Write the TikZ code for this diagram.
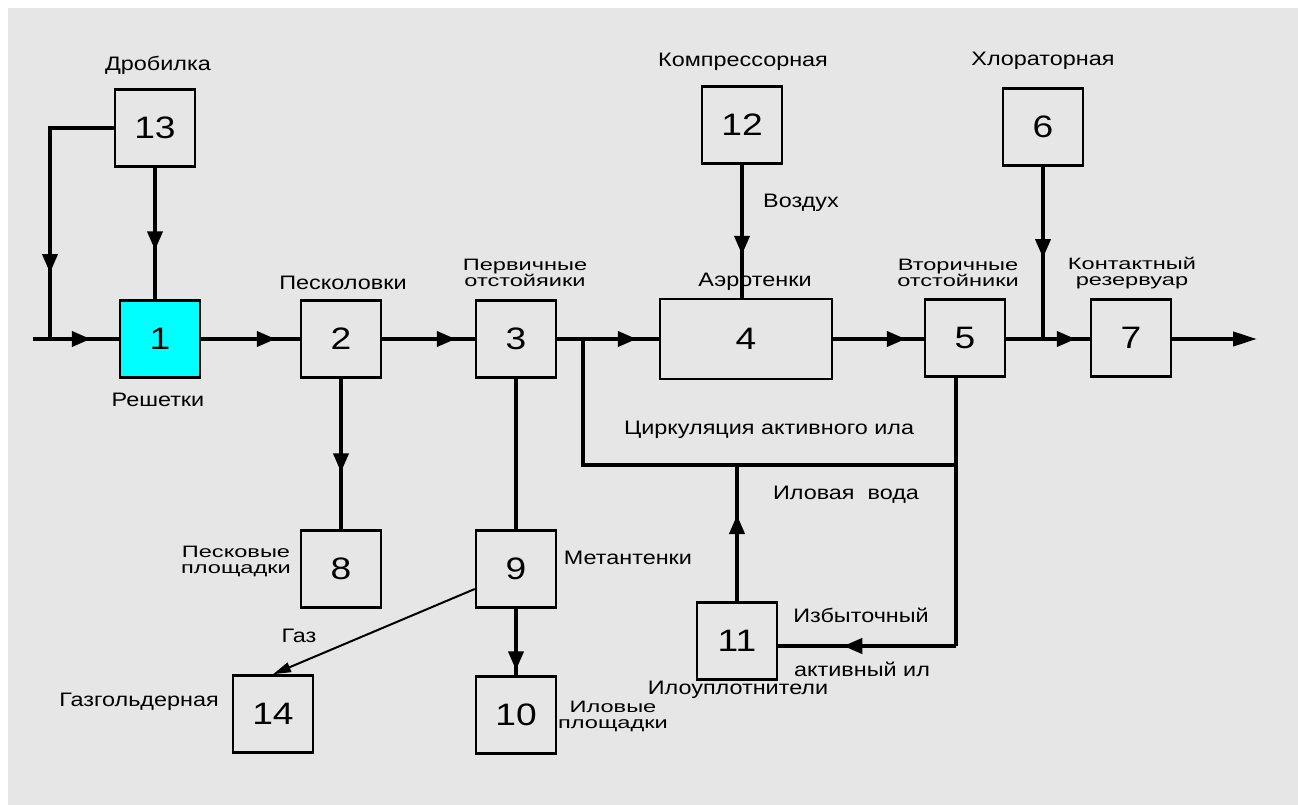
\documentclass[tikz,border=0pt]{standalone}
\usepackage{fontspec}
\setmainfont{Liberation Sans}[FakeStretch=1.2]
\newfontfamily\widefont{Liberation Sans}[FakeStretch=1.43]
\usetikzlibrary{arrows.meta,decorations.markings}
\definecolor{bg}{HTML}{E6E6E6}
\definecolor{aqua}{RGB}{0,255,255}
\tikzset{
 box/.style={draw,line width=2.5pt,minimum width=80pt,minimum height=77pt,inner sep=0pt,font=\fontsize{31}{31}\selectfont},
 lbl/.style={inner sep=0pt,font=\fontsize{19.5}{20}\selectfont},
 lbltwo/.style={inner sep=0pt,align=center,font=\widefont\fontsize{16.5}{16}\selectfont},
 flow/.style={line width=4pt},
 arr/.style={postaction={decorate},decoration={markings,mark=at position #1 with {\arrow{Triangle[length=19pt,width=15pt]}}}},
 endarr/.style={-{Triangle[length=24pt,width=14pt]}},
 gasline/.style={line width=2pt,-{Triangle[length=18pt,width=10pt]}},
}
\begin{document}
\begin{tikzpicture}[x=1pt,y=-1pt]
\useasboundingbox(0,0)rectangle(1298,805);
\fill[white](0,0)rectangle(1298,805);
\fill[bg](8,8)rectangle(1298,805);
% boxes
\node[box] (b13) at (155,128) {13};
\node[box,fill=aqua] (b1) at (160,339) {1};
\node[box] (b2) at (341,339) {2};
\node[box] (b3) at (516,339) {3};
\node[box,minimum width=172pt,minimum height=80pt] (b4) at (746,339) {4};
\node[box] (b5) at (965,338) {5};
\node[box] (b7) at (1131,338) {7};
\node[box] (b12) at (742,125) {12};
\node[box] (b6) at (1043,127) {6};
\node[box] (b8) at (341,569) {8};
\node[box] (b9) at (516,569) {9};
\node[box] (b10) at (516,715) {10};
\node[box] (b11) at (737,641) {11};
\node[box] (b14) at (273,714) {14};
% points
\coordinate (in) at (33,339);
\coordinate (j0) at (50,339);
\coordinate (j3) at (583,339);
\coordinate (j5) at (1043,339);
\coordinate (out) at (1257,339);
\coordinate (c1) at (583,465);
\coordinate (c2) at (956,465);
\coordinate (c3) at (956,646);
% main line
\draw[flow,arr=-28pt](in)--(b1);
\draw[flow,arr=-24pt](b1)--(b2);
\draw[flow,arr=-19pt](b2)--(b3);
\draw[flow](b3)--(j3);
\draw[flow,arr=-22pt](j3)--(b4);
\draw[flow,arr=-18pt](b4)--(b5.west|-j5);
\draw[flow](b5.east|-j5)--(j5);
\draw[flow,arr=-14pt](j5)--(b7.west|-j5);
\draw[flow,endarr](b7.east|-j5)--(out);
% feeds from above
\draw[flow,arr=-49pt](b13)--(b13|-b1.north);
\draw[flow,arr=-66pt](b13.west)-|(j0);
\draw[flow,arr=-43pt](b12)--(b12|-b4.north);
\draw[flow,arr=-81pt](b6)--(j5);
% down
\draw[flow,arr=-57pt](b2)--(b8);
\draw[flow](b3)--(b9);
\draw[flow,arr=-5pt](b9)--(b10);
\draw[gasline]([yshift=-20pt]b9.west)--(b14.north);
% sludge loop
\draw[flow](j3)--(c1)--(c2);
\draw[flow](b5.south-|c2)--(c3);
\draw[flow,arr=-65pt](c3)--(c3-|b11.east);
\draw[flow,arr=-50pt](b11)--(b11|-c1);
% labels
\node[lbl] (t13) at (158,65) {Дробилка};
\node[lbl] (t1) at (158,400) {Решетки};
\node[lbl] (t2) at (343,283) {Песколовки};
\node[lbltwo] (t3) at (525,273) {Первичные\\отстойяики};
\node[lbl] (t12) at (743,62) {Компрессорная};
\node[lbl] (tair) at (801,203) {Воздух};
\node[lbl] (t4) at (755,282) {Аэротенки};
\node[lbl] (t6) at (1043,61) {Хлораторная};
\node[lbltwo] (t5) at (958,273) {Вторичные\\отстойники};
\node[lbltwo] (t7) at (1132,273) {Контактный\\резервуар};
\node[lbltwo] (t8) at (236,561) {Песковые\\площадки};
\node[lbl] (tgas) at (299,636) {Газ};
\node[lbl] (t14) at (139,702) {Газгольдерная};
\node[lbl] (t9) at (628,558) {Метантенки};
\node[lbltwo] (t10) at (613,716) {Иловые\\площадки};
\node[lbl] (tcirc) at (769,430) {Циркуляция активного ила};
\node[lbl] (twater) at (846,495) {Иловая\ \ вода};
\node[lbl] (tex1) at (861,615) {Избыточный};
\node[lbl] (tex2) at (862,669) {активный ил};
\node[lbl] (t11) at (738,690) {Илоуплотнители};
\end{tikzpicture}
\end{document}
